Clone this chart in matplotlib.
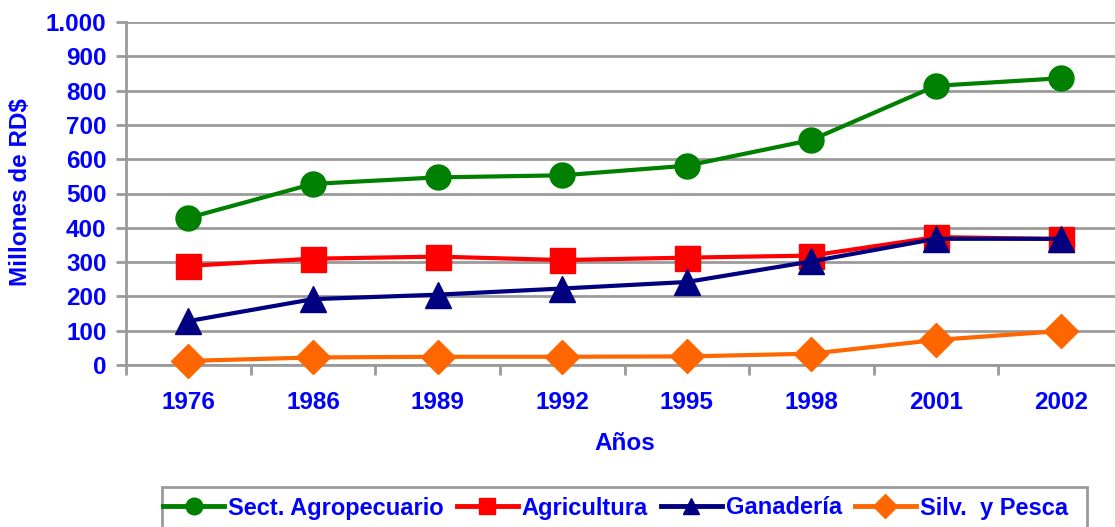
import matplotlib
matplotlib.use("Agg")
import matplotlib.pyplot as plt
from matplotlib.lines import Line2D
from matplotlib.patches import Rectangle

years = ["1976", "1986", "1989", "1992", "1995", "1998", "2001", "2002"]
sect_agro = [429, 528, 547, 553, 581, 656, 814, 836]
agricultura = [289, 310, 316, 306, 313, 319, 373, 367]
ganaderia = [128, 192, 205, 223, 242, 302, 368, 368]
silv_pesca = [12, 22, 24, 24, 25, 33, 73, 99]
yticks = [0, 100, 200, 300, 400, 500, 600, 700, 800, 900, 1000]
ytick_labels = ["0", "100", "200", "300", "400", "500", "600", "700", "800", "900", "1.000"]

W, H = 1115, 527
fig = plt.figure(figsize=(W / 100, H / 100), dpi=100)
fig.patch.set_facecolor("white")

left, right, top, bottom = 126, 1123, 22, 365
ax = fig.add_axes([left / W, 1 - bottom / H, (right - left) / W, (bottom - top) / H])
ax.set_facecolor("white")

blue = "#0000FF"
grid_c = "#9a9a9a"
font = "Liberation Sans"
fs = 17.5

x = list(range(len(years)))
series = [
    ("Sect. Agropecuario", sect_agro, "#008000", "o", 18),
    ("Agricultura", agricultura, "#FF0000", "s", 18),
    ("Ganadería", ganaderia, "#000080", "^", 19),
    ("Silv.  y Pesca", silv_pesca, "#FF6600", "D", 17),
]
for name, vals, col, mk, ms in series:
    ax.plot(x, vals, color=col, lw=3.0, marker=mk, markersize=ms,
            markerfacecolor=col, markeredgecolor=col, zorder=3, clip_on=False)

ax.set_xlim(-0.5, len(years) - 0.5)
ax.set_ylim(0, 1000)
ax.set_yticks(yticks)
ax.set_yticklabels(ytick_labels)
ax.set_xticks(x)
ax.set_xticklabels(years)
ax.set_xticks([i - 0.5 for i in range(len(years) + 1)], minor=True)
ax.tick_params(axis="x", which="major", length=0, pad=19)
ax.tick_params(axis="x", which="minor", length=7, width=2, color=grid_c, direction="out")
ax.tick_params(axis="y", length=7, width=2, color=grid_c, direction="out", pad=7)
for lab in ax.get_xticklabels() + ax.get_yticklabels():
    lab.set_fontfamily(font)
    lab.set_fontweight("bold")
    lab.set_fontsize(fs)
    lab.set_color(blue)

ax.grid(axis="y", color=grid_c, lw=2, zorder=0)
ax.set_axisbelow(True)
for s in ["top", "right"]:
    ax.spines[s].set_visible(False)
for s in ["left", "bottom"]:
    ax.spines[s].set_color(grid_c)
    ax.spines[s].set_linewidth(2)

fig.text(21 / W, 1 - 192 / H, "Millones de RD$", rotation=90, ha="center", va="center",
         fontfamily=font, fontweight="bold", fontsize=fs, color=blue)
fig.text(625 / W, 1 - 443 / H, "Años", ha="center", va="center",
         fontfamily=font, fontweight="bold", fontsize=fs, color=blue)

# legend box
fig.patches.append(Rectangle((162 / W, 1 - 540 / H), (1087 - 162) / W, (540 - 487) / H,
                             transform=fig.transFigure, facecolor="white",
                             edgecolor=grid_c, lw=2, zorder=5))
handles = [Line2D([0], [0], color=c, lw=3.5, marker=m, markersize=12,
                  markerfacecolor=c, markeredgecolor=c) for _, _, c, m, ms in series]
leg = fig.legend(handles, [s[0] for s in series], loc="center left",
                 bbox_to_anchor=(163 / W, 1 - 508 / H), ncol=4, frameon=False,
                 handlelength=2.6, handletextpad=0.15, columnspacing=0.55,
                 borderpad=0, borderaxespad=0,
                 prop={"family": font, "weight": "bold", "size": 17})
leg.set_zorder(6)
for t in leg.get_texts():
    t.set_color(blue)

fig.savefig("out.png", dpi=100, facecolor="white")
